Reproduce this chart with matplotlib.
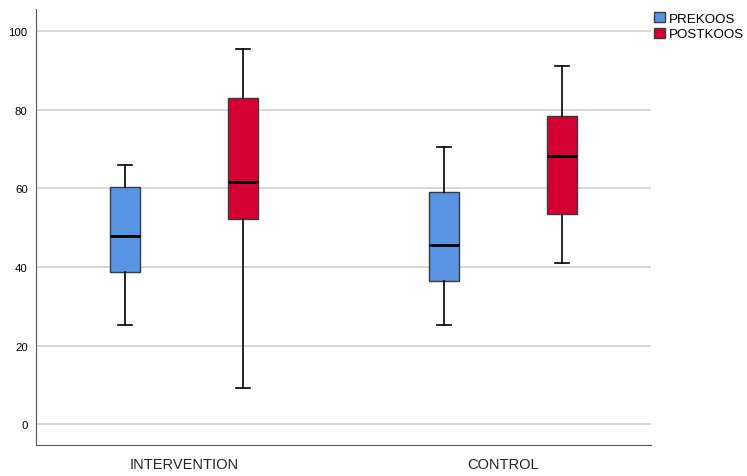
import matplotlib.pyplot as plt
from matplotlib.patches import Patch

plt.rcParams['font.family'] = ['Liberation Sans', 'DejaVu Sans']

groups = ["INTERVENTION", "CONTROL"]
series = ["PREKOOS", "POSTKOOS"]
colors = ["#5894E1", "#D40032"]

# five-number summaries: [low whisker, q1, median, q3, high whisker]
prekoos = [[25.2, 38.7, 47.8, 60.2, 66.0],
           [25.1, 36.5, 45.5, 59.1, 70.5]]
postkoos = [[9.2, 52.3, 61.5, 83.0, 95.4],
            [41.0, 53.5, 68.3, 78.4, 91.0]]

fig = plt.figure(figsize=(7.47, 4.77), dpi=100)
ax = fig.add_axes([0.0482, 0.065, 0.8233, 0.914])

offset = 0.185
for s_i, data in enumerate([prekoos, postkoos]):
    stats = []
    for vals in data:
        stats.append(dict(whislo=vals[0], q1=vals[1], med=vals[2], q3=vals[3], whishi=vals[4]))
    pos = [g + (offset if s_i else -offset) for g in range(len(groups))]
    ax.bxp(stats, positions=pos, widths=0.092, showfliers=False, patch_artist=True,
           boxprops=dict(facecolor=colors[s_i], edgecolor="#3a3a3a", linewidth=1),
           medianprops=dict(color="black", linewidth=2),
           whiskerprops=dict(color="black", linewidth=1.2),
           capprops=dict(color="black", linewidth=1.2), capwidths=0.045)

ax.set_xlim(-0.464, 1.464)
ax.set_ylim(-5.3, 105.6)
ax.set_yticks([0, 20, 40, 60, 80, 100])
ax.set_xticks(range(len(groups)))
ax.set_xticklabels(groups, fontsize=10.5, color="#222222")
ax.tick_params(axis='y', length=0, labelsize=8.2, pad=6)
ax.tick_params(axis='x', length=0, pad=9)
ax.yaxis.grid(True, color="#d2d2d2", linewidth=1.2)
ax.set_axisbelow(True)
for sp in ["top", "right"]:
    ax.spines[sp].set_visible(False)
for sp in ["left", "bottom"]:
    ax.spines[sp].set_color("#555555")

handles = [Patch(facecolor=c, edgecolor="#3a3a3a", label=l) for c, l in zip(colors, series)]
fig.legend(handles=handles, loc="upper left", bbox_to_anchor=(0.872, 0.978), frameon=False,
           fontsize=9.6, handlelength=0.8, handleheight=0.8, handletextpad=0.3,
           labelspacing=0.2, borderaxespad=0, borderpad=0.2)

fig.savefig("out.png", dpi=100)
